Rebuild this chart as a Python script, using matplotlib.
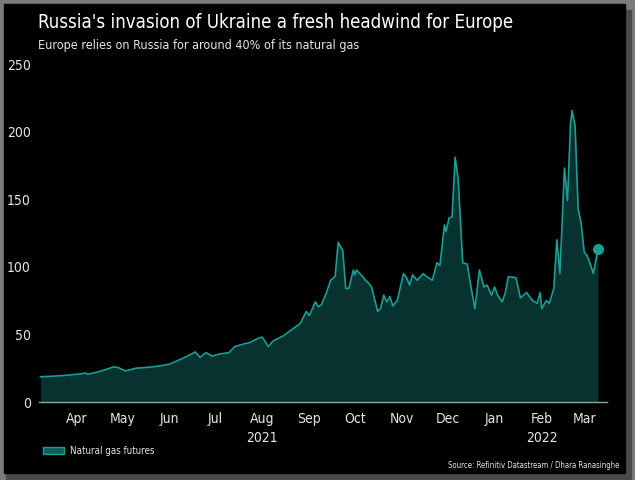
import matplotlib
matplotlib.use("Agg")
from matplotlib import pyplot as plt
from matplotlib.patches import Rectangle
import numpy as np

dates = ["2021-03-22", "2021-03-29", "2021-04-05", "2021-04-10", "2021-04-15",
         "2021-04-21", "2021-04-22", "2021-04-28", "2021-05-04", "2021-05-09",
         "2021-05-12", "2021-05-17", "2021-05-24", "2021-05-30", "2021-06-04",
         "2021-06-10", "2021-06-15", "2021-06-19", "2021-06-25", "2021-07-02",
         "2021-07-05", "2021-07-09", "2021-07-13", "2021-07-18", "2021-07-24",
         "2021-07-28", "2021-08-03", "2021-08-07", "2021-08-12", "2021-08-15",
         "2021-08-19", "2021-08-22", "2021-08-29", "2021-09-04", "2021-09-09",
         "2021-09-13", "2021-09-15", "2021-09-19", "2021-09-21", "2021-09-23",
         "2021-09-26", "2021-09-29", "2021-10-02", "2021-10-04", "2021-10-05",
         "2021-10-07", "2021-10-09", "2021-10-11", "2021-10-14", "2021-10-15",
         "2021-10-16", "2021-10-20", "2021-10-22", "2021-10-24", "2021-10-26",
         "2021-10-30", "2021-11-01", "2021-11-03", "2021-11-05", "2021-11-07",
         "2021-11-09", "2021-11-12", "2021-11-16", "2021-11-18", "2021-11-20",
         "2021-11-22", "2021-11-25", "2021-11-29", "2021-12-01", "2021-12-05",
         "2021-12-08", "2021-12-10", "2021-12-13", "2021-12-14", "2021-12-16",
         "2021-12-18", "2021-12-20", "2021-12-22", "2021-12-25", "2021-12-28",
         "2021-12-30", "2022-01-02", "2022-01-05", "2022-01-08", "2022-01-10",
         "2022-01-13", "2022-01-15", "2022-01-17", "2022-01-20", "2022-01-22",
         "2022-01-24", "2022-01-29", "2022-02-01", "2022-02-05", "2022-02-09",
         "2022-02-12", "2022-02-14", "2022-02-15", "2022-02-18", "2022-02-20",
         "2022-02-23", "2022-02-25", "2022-02-27", "2022-03-02", "2022-03-04",
         "2022-03-06", "2022-03-07", "2022-03-09", "2022-03-11", "2022-03-13",
         "2022-03-15", "2022-03-17", "2022-03-19", "2022-03-21", "2022-03-24"]
prices = [18.7, 19.0, 19.5, 20.0, 20.5,
          21.4, 20.5, 22.0, 24.0, 26.0,
          25.5, 23.0, 25.0, 25.5, 26.0,
          27.0, 28.0, 30.0, 33.0, 37.0,
          33.0, 36.5, 34.0, 35.5, 36.5,
          41.0, 43.0, 44.0, 47.0, 48.0,
          41.0, 45.0, 49.0, 54.0, 58.0,
          67.0, 64.0, 74.0, 70.5, 72.0,
          80.0, 90.0, 93.0, 118.0, 116.0,
          112.0, 84.0, 84.0, 97.6, 94.0,
          97.6, 93.0, 90.0, 88.0, 85.0,
          67.0, 69.5, 79.0, 74.0, 78.0,
          71.0, 75.4, 95.0, 92.0, 86.5,
          94.0, 90.0, 95.0, 93.0, 90.0,
          103.0, 101.0, 131.0, 126.0, 136.0,
          137.0, 181.0, 165.0, 103.0, 102.0,
          88.0, 69.0, 97.6, 85.0, 86.5,
          79.0, 85.0, 79.0, 74.0, 80.6,
          92.7, 92.0, 77.0, 81.0, 75.0,
          73.0, 81.0, 69.0, 75.0, 73.0,
          84.0, 120.0, 95.0, 173.0, 149.0,
          206.0, 215.5, 204.0, 143.0, 132.0,
          111.0, 108.0, 102.0, 95.0, 113.0]

month_ticks = ["2021-04-15", "2021-05-15", "2021-06-15", "2021-07-15", "2021-08-15",
               "2021-09-15", "2021-10-15", "2021-11-15", "2021-12-15", "2022-01-15",
               "2022-02-15", "2022-03-15"]
month_labels = ["Apr", "May", "Jun", "Jul", "Aug", "Sep", "Oct", "Nov", "Dec",
                "Jan", "Feb", "Mar"]
year_ticks = ["2021-08-15", "2022-02-15"]
year_labels = ["2021", "2022"]
y_ticks = [0, 50, 100, 150, 200, 250]

plt.rcParams['font.family'] = ['DejaVu Sans']
plt.rcParams['font.stretch'] = 'condensed'

line_col = '#1a9e95'
fill_col = '#07322f'
text_col = '#e6e6e6'

x = np.array(dates, dtype='datetime64[D]')
y = np.array(prices)

fig = plt.figure(figsize=(6.35, 4.8), dpi=100, facecolor='#7b7b7b')
# dark card with a soft shadow, like the screenshot frame
fig.patches.append(Rectangle((6 / 635, 0), 625 / 635, 1 - 10 / 480,
                             transform=fig.transFigure, color='#4a4a4a', zorder=-3))
fig.patches.append(Rectangle((4 / 635, 1 - 473 / 480), 621 / 635, 469 / 480,
                             transform=fig.transFigure, color='black', zorder=-2))

ax = fig.add_axes([39 / 635, 1 - 402 / 480, (607 - 39) / 635, (402 - 64) / 480])
ax.set_facecolor('none')
ax.fill_between(x, y, 0, color=fill_col, lw=0)
ax.plot(x, y, color=line_col, lw=1.2)
ax.plot(x[-1:], y[-1:], 'o', color=line_col, ms=7)

ax.set_xlim(np.datetime64('2021-03-21'), np.datetime64('2022-03-30'))
ax.set_ylim(0, 250)
for s in ['top', 'right', 'left']:
    ax.spines[s].set_visible(False)
ax.spines['bottom'].set_color('#8fa3a3')
ax.spines['bottom'].set_linewidth(1)

ax.set_yticks(y_ticks)
ax.tick_params(axis='y', length=0, labelcolor=text_col, labelsize=10, pad=6)
ax.set_xticks(np.array(month_ticks, dtype='datetime64[D]'))
ax.set_xticklabels(month_labels)
ax.tick_params(axis='x', length=0, labelcolor=text_col, labelsize=10, pad=7)
for d, lab in zip(year_ticks, year_labels):
    ax.text(np.datetime64(d), -0.085, lab, transform=ax.get_xaxis_transform(),
            ha='center', va='top', color=text_col, fontsize=10)

fig.text(38 / 635, 1 - 22 / 480, "Russia's invasion of Ukraine a fresh headwind for Europe",
         color='white', fontsize=13.4, va='center', ha='left')
fig.text(38 / 635, 1 - 46 / 480, "Europe relies on Russia for around 40% of its natural gas",
         color=text_col, fontsize=9, va='center', ha='left')

handle = Rectangle((0, 0), 1, 1, facecolor='#145e59', edgecolor=line_col, lw=1)
fig.legend([handle], ['Natural gas futures'], loc='center left',
           bbox_to_anchor=(34 / 635, 1 - 451 / 480), frameon=False,
           labelcolor=text_col, fontsize=7, handlelength=2.2, handleheight=0.6,
           handletextpad=0.6)

fig.text(619 / 635, 1 - 465 / 480, "Source: Refinitiv Datastream / Dhara Ranasinghe",
         color=text_col, fontsize=5.6, ha='right', va='center')

fig.savefig('out.png', dpi=100, facecolor=fig.get_facecolor())
